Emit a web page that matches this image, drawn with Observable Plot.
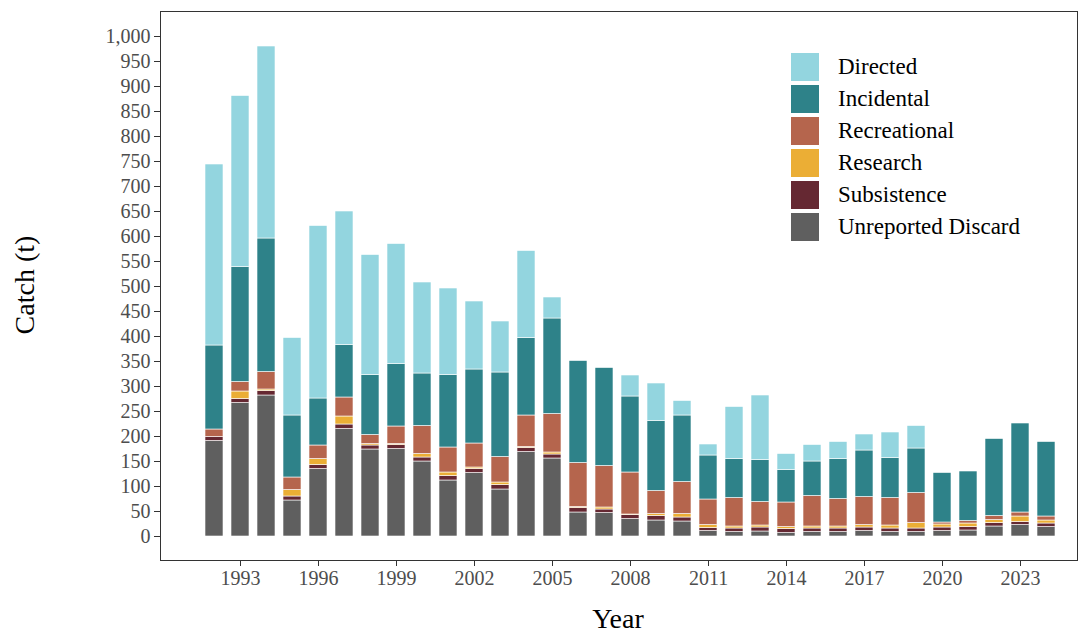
<!DOCTYPE html>
<html><head><meta charset="utf-8">
<script src="https://cdn.jsdelivr.net/npm/d3@7"></script>
<script src="https://cdn.jsdelivr.net/npm/@observablehq/plot@0.6"></script>
<style>
body{margin:0;background:#fff;font-family:"Liberation Serif",serif;}
#wrap{position:relative;width:1089px;height:633px;}
#legend{position:absolute;left:790px;top:51px;font-size:23px;color:#000;font-family:"Liberation Serif",serif;}
.row{display:flex;align-items:center;height:32px;}
.sw{width:28px;height:28px;margin-right:18px;border:1px solid #fff;}
</style></head><body>
<div id="wrap"><div id="chart"></div><div id="legend"></div></div>
<script>
const years = d3.range(1992, 2025);
const categories = ["Unreported Discard","Subsistence","Research","Recreational","Incidental","Directed"];
const colors = ["#5f5f5f","#652832","#ebae35","#b5654d","#2e8289","#93d5df"];
const unreported = [191,267,282,72,135,215,174,175,150,112,127,94,169,156,48,47,35,32,30,11,9,10,7,9,9,11,9,9,11,12,20,23,19];
const subsistence = [8,8,9,8,8,9,8,8,8,9,8,9,8,8,9,7,8,9,8,6,7,8,8,7,7,7,7,7,7,7,7,6,7];
const research = [0,15,3,13,12,16,3,2,7,7,3,5,2,4,2,4,1,4,7,6,4,4,4,4,4,5,6,11,6,7,6,11,6];
const recreational = [15,19,35,25,27,38,18,35,56,50,48,51,63,77,88,83,84,46,64,51,57,47,49,61,55,56,55,60,4,5,8,8,8];
const incidental = [168,230,267,124,94,105,120,125,105,145,148,169,155,191,204,196,152,140,133,88,78,84,65,69,80,93,80,89,99,99,154,178,149];
const directed = [362,342,384,155,345,267,240,240,182,173,136,102,174,42,0,0,42,75,29,22,104,129,32,33,34,32,51,45,0,0,0,0,0];
const series = [unreported,subsistence,research,recreational,incidental,directed];
const data = [];
years.forEach((yr,i)=>categories.forEach((c,j)=>data.push({year:yr,cat:c,value:series[j][i]})));
const tickYears = d3.range(1993, 2025, 3);
const yTicks = d3.range(0,1001,50);

const chart = Plot.plot({
  width:1089, height:633,
  marginLeft:160, marginRight:12, marginTop:11, marginBottom:73,
  style:{fontFamily:"Liberation Serif, serif", fontSize:"20px", color:"#333"},
  x:{type:"band", domain:years, paddingInner:0.3, paddingOuter:1.15, align:0.68, axis:null},
  y:{domain:[-48,1050], axis:null},
  color:{domain:categories, range:colors},
  marks:[
    Plot.barY(data, Plot.stackY({x:"year", y:"value", fill:"cat", order:categories, stroke:"white", strokeWidth:0.6})),
    Plot.frame({stroke:"#333"}),
    Plot.axisX({ticks:tickYears, tickFormat:d=>String(d), tickSize:6, tickPadding:4, fontSize:20, fill:"#4d4d4d", label:null}),
    Plot.axisY({ticks:yTicks, tickFormat:d3.format(","), tickSize:6, tickPadding:4, fontSize:20, fill:"#4d4d4d", label:null})
  ]
});
document.getElementById("chart").appendChild(chart);
const svg = d3.select(chart);
svg.append("text").attr("x",618).attr("y",628).attr("text-anchor","middle").attr("font-size",28).attr("fill","#000").text("Year");
svg.append("text").attr("transform","translate(34,285) rotate(-90)").attr("text-anchor","middle").attr("font-size",28).attr("fill","#000").text("Catch (t)");
const leg = d3.select("#legend");
[...categories].reverse().forEach((c)=>{
  const r = leg.append("div").attr("class","row");
  r.append("div").attr("class","sw").style("background",colors[categories.indexOf(c)]);
  r.append("span").text(c);
});
</script></body></html>
